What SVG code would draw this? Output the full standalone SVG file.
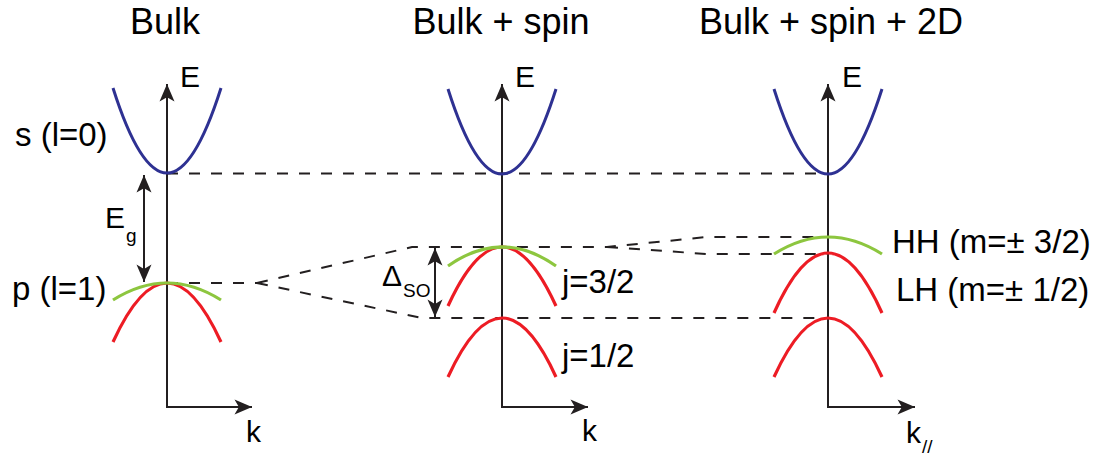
<svg xmlns="http://www.w3.org/2000/svg" width="1096" height="457" viewBox="0 0 1096 457">
<style>
text{font-family:"Liberation Sans",Arial,Helvetica,sans-serif;fill:#000}
.t{font-size:36px}
.l{font-size:33px}
.a{font-size:30px}
.sub{font-size:19px}
.ax{fill:none;stroke:#231f20;stroke-width:2}
.ds{fill:none;stroke:#231f20;stroke-width:2;stroke-dasharray:11 11}
.bl{fill:none;stroke:#2e3192;stroke-width:3}
.rd{fill:none;stroke:#ed1c24;stroke-width:3.2}
.gr{fill:none;stroke:#8dc63f;stroke-width:3.2}
</style>
<defs>
<marker id="ah" markerUnits="userSpaceOnUse" markerWidth="20" markerHeight="20" viewBox="-15 -8 16 16" refX="0" refY="0" orient="auto-start-reverse">
<path d="M0,0 L-14,-6 L-10.5,0 L-14,6 Z" fill="#231f20"/>
</marker>
</defs>
<rect width="1096" height="457" fill="#fff"/>

<g id="connectors">
<path class="ds" d="M167,173.5 H828"/>
<path class="ds" d="M167,283 H257"/>
<path class="ds" d="M257,283 L412,247 H607 L707,237 H828"/>
<path class="ds" d="M607,247 L707,254 H828"/>
<path class="ds" d="M257,283 L422,318 H828"/>
</g>

<g id="bulk">
<text class="t" x="165" y="34" text-anchor="middle">Bulk</text>
<path class="ax" d="M167,407 V84" marker-end="url(#ah)"/>
<path class="ax" d="M166,407 H252" marker-end="url(#ah)"/>
<text class="a" x="180" y="87">E</text>
<text class="a" x="246" y="442">k</text>
<path class="bl" d="M113,88 Q167,258 221,88"/>
<path class="rd" d="M113,342 Q167,224 221,342"/>
<path class="gr" d="M113,300 Q167,266 221,300"/>
<text class="l" x="15" y="146">s (l=0)</text>
<text class="l" x="12" y="300">p (l=1)</text>
<path class="ax" d="M144,175 V282" marker-start="url(#ah)" marker-end="url(#ah)"/>
<text class="a" x="105" y="228">E<tspan class="sub" x="126" y="242">g</tspan></text>
</g>

<g id="bulk-spin">
<text class="t" x="501" y="34" text-anchor="middle">Bulk + spin</text>
<path class="ax" d="M502,407 V84" marker-end="url(#ah)"/>
<path class="ax" d="M501,407 H588" marker-end="url(#ah)"/>
<text class="a" x="515" y="87">E</text>
<text class="a" x="582" y="441">k</text>
<path class="bl" d="M448,89 Q502,259 556,89"/>
<path class="rd" d="M448,306 Q502,188 556,306"/>
<path class="gr" d="M448,266 Q502,228 556,266"/>
<path class="rd" d="M448,377 Q502,259 556,377"/>
<text class="l" x="562" y="293">j=3/2</text>
<text class="l" x="562" y="367">j=1/2</text>
<path class="ax" d="M435,248 V317" marker-start="url(#ah)" marker-end="url(#ah)"/>
<text class="a" x="382" y="286">Δ<tspan class="sub" x="403" y="297">SO</tspan></text>
</g>

<g id="bulk-spin-2d">
<text class="t" x="831" y="34" text-anchor="middle">Bulk + spin + 2D</text>
<path class="ax" d="M828,407 V84" marker-end="url(#ah)"/>
<path class="ax" d="M827,407 H915" marker-end="url(#ah)"/>
<text class="a" x="842" y="87">E</text>
<text class="a" x="906" y="443">k<tspan class="sub" x="922" y="453">//</tspan></text>
<path class="bl" d="M774,89 Q828,259 882,89"/>
<path class="rd" d="M774,313 Q828,193 882,313"/>
<path class="gr" d="M774,254 Q828,220 882,254"/>
<path class="rd" d="M774,377 Q828,259 882,377"/>
<text class="l" x="892" y="253">HH (m=± 3/2)</text>
<text class="l" x="896" y="301">LH (m=± 1/2)</text>
</g>
</svg>
